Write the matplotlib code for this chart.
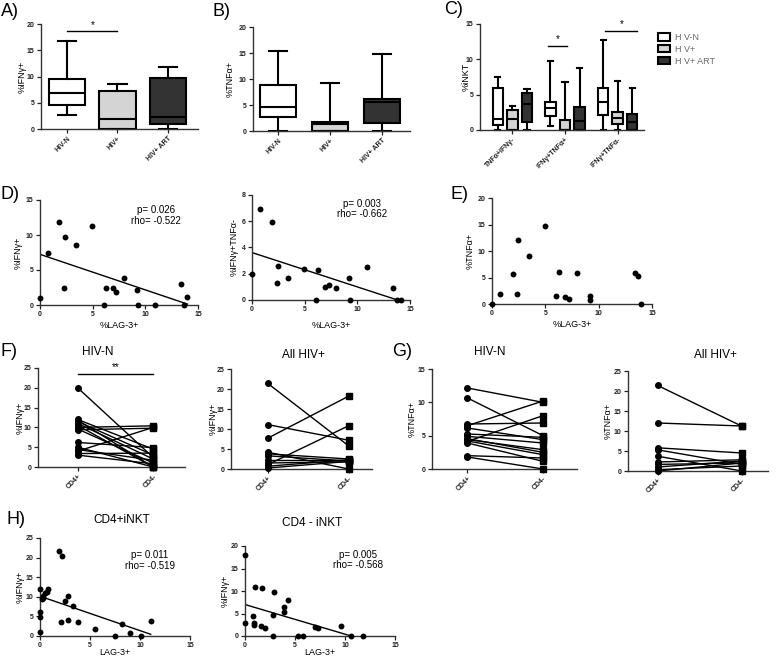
import numpy as np
import matplotlib.pyplot as plt
from matplotlib.patches import Patch

plt.rcParams['font.family'] = ['Liberation Sans', 'DejaVu Sans']

# ---- A) %IFNg+ boxes (whislo, q1, med, q3, whishi)
groups_ab = ['HIV-N', 'HIV+', 'HIV+ ART']
a_lo = [2.7, 0, 0]
a_q1 = [4.6, 0, 1.0]
a_med = [6.8, 2.0, 2.3]
a_q3 = [9.5, 7.2, 9.7]
a_hi = [16.8, 8.5, 11.8]

# ---- B) %TNFa+
b_lo = [0, 0, 0]
b_q1 = [2.75, 0, 1.5]
b_med = [4.7, 1.3, 5.6]
b_q3 = [8.8, 1.8, 6.1]
b_hi = [15.4, 9.3, 14.8]

# ---- C) %iNKT, per subset (rows) x group (cols)
c_cats = ['TNFα+IFNγ-', 'IFNγ+TNFα+', 'IFNγ+TNFα-']
c_legend = ['H V-N', 'H V+', 'H V+ ART']
c_lo = [[0, 0, 0], [0.5, 0, 0], [0, 0, 0]]
c_q1 = [[0.75, 0, 1.2], [2.0, 0, 0], [2.15, 0.9, 0]]
c_med = [[1.5, 1.6, 3.7], [3.1, 0, 1.25], [4.0, 1.7, 1.2]]
c_q3 = [[6.0, 2.8, 5.3], [4.0, 1.45, 3.2], [6.0, 2.5, 2.3]]
c_hi = [[7.5, 3.4, 5.8], [9.7, 6.8, 8.75], [12.75, 6.9, 5.9]]

# ---- D/E) LAG-3 correlations
d_lag = [0, 0.73, 1.84, 2.38, 2.32, 3.43, 4.92, 6.06, 6.29, 6.89, 7.24, 7.97, 9.2, 9.3, 10.9, 13.4, 13.7, 14.0]
d_ifng = [1.0, 7.4, 11.8, 9.7, 2.5, 8.6, 11.3, 0, 2.4, 2.4, 1.9, 3.9, 2.1, 0, 0, 2.95, 0, 1.1]
d2_lag = [0, 0.73, 1.93, 2.44, 2.34, 3.45, 4.97, 6.3, 6.08, 6.93, 7.3, 7.98, 9.24, 9.3, 10.95, 13.42, 13.74, 14.1]
d2_dp = [1.96, 6.95, 5.98, 2.62, 1.32, 1.68, 2.39, 2.29, 0, 0.97, 1.12, 0.94, 1.65, 0, 2.54, 0.94, 0, 0]
e_lag = [0, 0.78, 1.93, 2.44, 2.34, 3.47, 4.93, 6.03, 6.28, 6.88, 7.22, 7.97, 9.21, 9.21, 13.37, 13.68, 14.0]
e_tnf = [0, 1.85, 5.65, 12.1, 1.84, 9.14, 14.7, 1.52, 5.97, 1.27, 0.95, 5.84, 1.52, 0.76, 5.84, 5.2, 0]

# ---- F/G) paired CD4+ vs CD4-
f_n_pos = [20.0, 12.0, 11.8, 11.5, 11.0, 10.5, 10.0, 9.6, 9.4, 6.2, 5.0, 4.4, 4.0, 3.4, 3.0]
f_n_neg = [2.4, 4.5, 0.0, 3.0, 2.0, 0.0, 10.4, 1.0, 9.8, 4.9, 0.0, 1.7, 10.0, 3.5, 0.8]
f_h_pos = [21.4, 11.1, 7.7, 4.2, 3.8, 3.3, 2.2, 1.5, 1.1, 0.7, 0.25]
f_h_neg = [5.8, 7.2, 18.2, 0.0, 2.5, 2.0, 2.2, 1.8, 10.8, 2.3, 1.9]
g_n_pos = [12.15, 10.65, 6.75, 6.5, 6.15, 5.25, 4.9, 4.55, 4.4, 4.15, 3.9, 2.0, 1.8, 4.2]
g_n_neg = [10.0, 5.0, 6.9, 10.2, 4.4, 4.75, 3.9, 2.5, 2.9, 8.0, 1.15, 1.65, 0.0, 2.15]
g_h_pos = [21.4, 12.0, 5.8, 5.3, 3.7, 2.25, 1.65, 1.0, 0.33, 0.0]
g_h_neg = [11.2, 11.25, 4.5, 1.65, 0.0, 2.8, 2.0, 2.5, 1.25, 2.0]
pair_labels = ['CD4+', 'CD4-']

# ---- H) CD4+ / CD4- iNKT vs LAG-3
h1_lag = [0, 0, 0, 0, 0.17, 0.33, 0.5, 0.67, 0.83, 0.27, 1.9, 2.17, 2.07, 2.5, 2.83, 2.77, 3.33, 3.83, 5.5, 7.5, 8.23, 9.0, 10.07, 11.07]
h1_ifng = [11.95, 6.2, 4.9, 0.93, 9.4, 10.2, 11.0, 11.3, 12.1, 9.6, 21.7, 20.4, 3.5, 9.0, 10.2, 4.2, 7.7, 3.6, 1.8, 0, 3.05, 0.7, 0, 3.8]
h2_lag = [0, 0, 0.77, 0.9, 0.9, 1.0, 1.6, 2.0, 1.73, 2.93, 2.83, 2.83, 3.93, 3.93, 4.33, 5.33, 5.83, 7.0, 7.3, 9.57, 10.57, 11.77]
h2_ifng = [18.0, 2.8, 4.4, 3.0, 2.4, 10.8, 2.2, 1.7, 10.6, 9.8, 4.7, 0, 6.5, 5.3, 8.0, 0, 0, 2.1, 1.85, 2.3, 0, 0]

box_colors = ['white', '#d4d4d4', '#333333']

W, H = 779, 658
fig = plt.figure(figsize=(W / 100, H / 100), dpi=100)


def add_ax(l, t, r, b):
    return fig.add_axes([l / W, 1 - b / H, (r - l) / W, (b - t) / H])


def ftext(x, y, s, **kw):
    fig.text(x / W, 1 - y / H, s, **kw)


def style(ax, ylab, ylx):
    for s in ['top', 'right']:
        ax.spines[s].set_visible(False)
    for s in ['left', 'bottom']:
        ax.spines[s].set_linewidth(1.0)
        ax.spines[s].set_color('#333333')
    ax.tick_params(length=3, width=0.9, labelsize=5, pad=1.5, colors='#222222')
    for lab in ax.get_xticklabels() + ax.get_yticklabels():
        lab.set_fontweight('bold')
    ax.set_ylabel(ylab, fontsize=6.5)
    ax.yaxis.set_label_coords(ylx, 0.5)


def boxes(ax, lo, q1, med, q3, hi, pos, width, colors):
    stats = [dict(whislo=lo[i], q1=q1[i], med=med[i], q3=q3[i], whishi=hi[i], fliers=[])
             for i in range(len(lo))]
    art = ax.bxp(stats, positions=pos, widths=width, patch_artist=True, showfliers=False,
                 boxprops=dict(edgecolor='black', linewidth=1.5),
                 medianprops=dict(color='black', linewidth=1.5),
                 whiskerprops=dict(linewidth=1.5), capprops=dict(linewidth=1.5))
    for patch, c in zip(art['boxes'], colors):
        patch.set_facecolor(c)
    for k in art:
        for a in art[k]:
            a.set_clip_on(False)


def rot_labels(ax, labels, pos):
    ax.set_xticks(pos)
    ax.set_xticklabels(labels, rotation=45, ha='right', rotation_mode='anchor')


# A
ax = add_ax(41, 24, 198, 129)
boxes(ax, a_lo, a_q1, a_med, a_q3, a_hi, [1, 2, 3], 0.72, box_colors)
ax.set_xlim(0.48, 3.6)
ax.set_ylim(0, 20)
ax.set_yticks([0, 5, 10, 15, 20])
rot_labels(ax, groups_ab, [1, 2, 3])
ax.plot([1, 2], [18.7, 18.7], color='black', lw=1, clip_on=False)
ax.text(1.5, 18.9, '*', ha='center', va='bottom', fontsize=7)
style(ax, '%IFNγ+', -0.089)

# B
ax = add_ax(253, 27, 410, 131)
boxes(ax, b_lo, b_q1, b_med, b_q3, b_hi, [1, 2, 3], 0.7, box_colors)
ax.set_xlim(0.52, 3.54)
ax.set_ylim(0, 20)
ax.set_yticks([0, 5, 10, 15, 20])
rot_labels(ax, groups_ab, [1, 2, 3])
style(ax, '%TNFα+', -0.115)

# C
ax = add_ax(480, 24, 644, 130)
off = 0.276
for j in range(3):
    boxes(ax, [c_lo[i][j] for i in range(3)], [c_q1[i][j] for i in range(3)],
          [c_med[i][j] for i in range(3)], [c_q3[i][j] for i in range(3)],
          [c_hi[i][j] for i in range(3)], [1 + (j - 1) * off, 2 + (j - 1) * off, 3 + (j - 1) * off],
          0.2, [box_colors[j]] * 3)
ax.set_xlim(0.385, 3.5)
ax.set_ylim(0, 15)
ax.set_yticks([0, 5, 10, 15])
rot_labels(ax, c_cats, [1, 2, 3])
ax.plot([2 - off - 0.04, 2 + 0.04], [11.85, 11.85], color='black', lw=1, clip_on=False)
ax.text(2 - off / 2, 12.1, '*', ha='center', va='bottom', fontsize=7)
ax.plot([3 - off + 0.04, 3 + off + 0.1], [14.0, 14.0], color='black', lw=1, clip_on=False)
ax.text(3 + 0.07, 14.25, '*', ha='center', va='bottom', fontsize=7, clip_on=False)
style(ax, '%iNKT', -0.06)
handles = [Patch(facecolor=c, edgecolor='black', linewidth=1.5, label=l) for c, l in zip(box_colors, c_legend)]
fig.legend(handles=handles, loc='upper left', bbox_to_anchor=(650 / W, 1 - 25 / H), frameon=False,
           fontsize=6.5, handlelength=1.3, handleheight=0.9, labelspacing=0.3, handletextpad=0.6,
           labelcolor='#666666')


def scatter_panel(ax, x, y, ylim, yticks, ylab, ylx, xlab, xly, fit, ptxt=None, pxy=None):
    ax.scatter(x, y, s=18, color='black', clip_on=False, zorder=3, linewidths=0)
    if fit:
        coef = np.polyfit(x, y, 1)
        xs = np.array([min(x), max(x)])
        ax.plot(xs, np.polyval(coef, xs), color='black', lw=1)
    ax.set_xlim(0, 15)
    ax.set_xticks([0, 5, 10, 15])
    ax.set_ylim(*ylim)
    ax.set_yticks(yticks)
    style(ax, ylab, ylx)
    ax.set_xlabel(xlab, fontsize=6.5)
    ax.xaxis.set_label_coords(0.5, xly)
    if ptxt:
        ax.text(pxy[0], pxy[1], ptxt, transform=ax.transAxes, ha='center', va='center',
                fontsize=7, multialignment='center', linespacing=1.1)


# D
ax = add_ax(40, 200, 198, 305)
scatter_panel(ax, d_lag, d_ifng, (0, 15), [0, 5, 10, 15], '%IFNγ+', -0.108, '%LAG-3+', -0.15, True,
              'p= 0.026\nrho= -0.522', (0.734, 0.852))
ax = add_ax(252, 195, 410, 300)
scatter_panel(ax, d2_lag, d2_dp, (0, 8), [0, 2, 4, 6, 8], '%IFNγ+TNFα-', -0.082, '%LAG-3+', -0.2, True,
              'p= 0.003\nrho= -0.662', (0.694, 0.867))
# E
ax = add_ax(492, 198, 652, 304)
scatter_panel(ax, e_lag, e_tnf, (0, 20), [0, 5, 10, 15, 20], '%TNFα+', -0.106, '%LAG-3+', -0.15, False)


def paired_panel(ax, pos, neg, ylim, yticks, xlim, ylab, ylx):
    for a, b in zip(pos, neg):
        ax.plot([0, 1], [a, b], color='black', lw=1, zorder=2, clip_on=False)
    ax.plot([0] * len(pos), pos, 'o', color='black', ms=4, clip_on=False, zorder=3)
    ax.plot([1] * len(neg), neg, 's', color='black', ms=4, clip_on=False, zorder=3)
    ax.set_xlim(*xlim)
    ax.set_ylim(*ylim)
    ax.set_yticks(yticks)
    rot_labels(ax, pair_labels, [0, 1])
    style(ax, ylab, ylx)


# F
ax = add_ax(38, 368, 185, 467)
paired_panel(ax, f_n_pos, f_n_neg, (0, 25), [0, 5, 10, 15, 20, 25], (-0.525, 1.42), '%IFNγ+', -0.088)
ax.plot([0, 1], [23.5, 23.5], color='black', lw=1)
ax.text(0.5, 24.0, '**', ha='center', va='bottom', fontsize=7)
ax = add_ax(231, 369, 372, 469)
paired_panel(ax, f_h_pos, f_h_neg, (0, 25), [0, 5, 10, 15, 20, 25], (-0.455, 1.29), '%IFNγ+', -0.092)
# G
ax = add_ax(432, 369, 577, 469)
paired_panel(ax, g_n_pos, g_n_neg, (0, 15), [0, 5, 10, 15], (-0.47, 1.45), '%TNFα+', -0.108)
ax = add_ax(628, 371, 768, 471)
paired_panel(ax, g_h_pos, g_h_neg, (0, 25), [0, 5, 10, 15, 20, 25], (-0.35, 1.31), '%TNFα+', -0.107)

# H
ax = add_ax(40, 538, 190, 636)
scatter_panel(ax, h1_lag, h1_ifng, (0, 25), [0, 5, 10, 15, 20, 25], '%IFNγ+', -0.1, 'LAG-3+', -0.12, True,
              'p= 0.011\nrho= -0.519', (0.733, 0.77))
ax = add_ax(245, 546, 395, 636)
scatter_panel(ax, h2_lag, h2_ifng, (0, 20), [0, 5, 10, 15, 20], '%IFNγ+', -0.1, 'LAG-3+', -0.135, True,
              'p= 0.005\nrho= -0.568', (0.755, 0.844))

# titles
for x, y, s in [(98, 352, 'HIV-N'), (303, 355, 'All HIV+'), (490, 352, 'HIV-N'), (715, 355, 'All HIV+'),
                (122, 520, 'CD4+iNKT'), (312, 523, 'CD4 - iNKT')]:
    ftext(x, y, s, ha='center', va='center', fontsize=8.5)

# panel letters
for x, y, s in [(1, 11, 'A)'), (212, 11, 'B)'), (444, 10, 'C)'), (1, 195, 'D)'), (451, 195, 'E)'),
                (1, 352, 'F)'), (392, 352, 'G)'), (6, 519, 'H)')]:
    ftext(x, y, s, ha='left', va='center', fontsize=13)

fig.savefig('out.png', dpi=100)
